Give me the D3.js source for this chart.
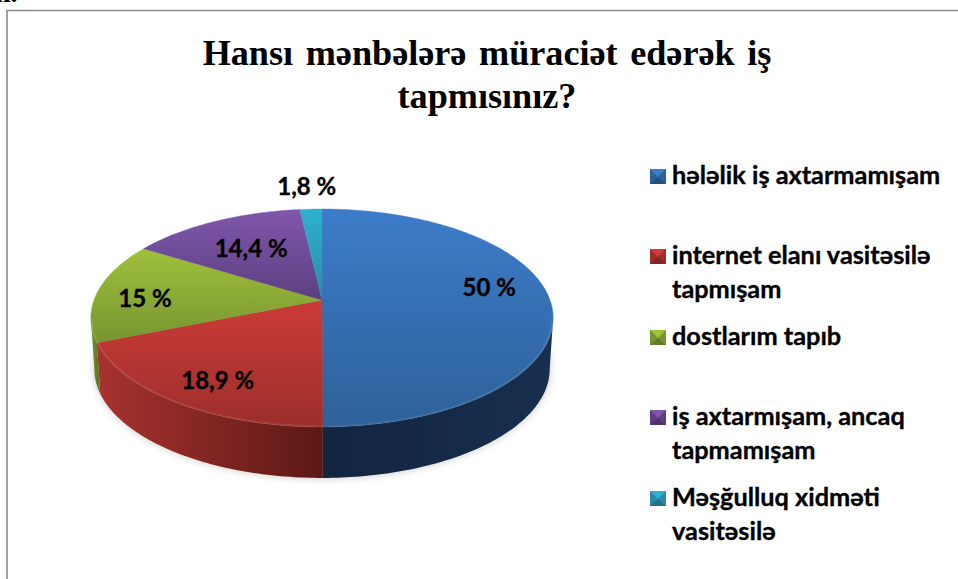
<!DOCTYPE html>
<html><head><meta charset="utf-8">
<script src="https://cdn.jsdelivr.net/npm/d3@7"></script>
<style>html,body{margin:0;padding:0;background:#fff;overflow:hidden}svg{display:block}</style>
</head><body><div id="chart"></div>
<script>
const categories = ["hələlik iş axtarmamışam", "internet elanı vasitəsilə tapmışam", "dostlarım tapıb", "iş axtarmışam, ancaq tapmamışam", "Məşğulluq xidməti vasitəsilə"];
const values = [50, 18.9, 15, 14.4, 1.8];
const legendLines = [["hələlik iş axtarmamışam"], ["internet elanı vasitəsilə", "tapmışam"], ["dostlarım tapıb"], ["iş axtarmışam, ancaq", "tapmamışam"], ["Məşğulluq xidməti", "vasitəsilə"]];
const titleLines = ["Hansı mənbələrə müraciət edərək iş", "tapmısınız?"];
const topLight = ["#3d7cc9", "#cc3b38", "#a0c03c", "#8057ac", "#2fb0d0"];
const topDark  = ["#2d6199", "#9c2e2b", "#769530", "#5c3f80", "#2a8aa8"];
const wallLeft = ["#122440", "#a8322f", "#7f9c33", "#5c3f80", "#2a8aa8"];
const wallRight = ["#182f4e", "#5c1916", "#5e7a28", "#5c3f80", "#2a8aa8"];
const legendY = [183, 263, 344, 424, 505];
const labelNudge = [[3,-12],[-3,10],[-15,5],[9,7],[-7,-45]];

const W = 958, H = 579;
const svg = d3.select("#chart").append("svg").attr("width", W).attr("height", H);
const defs = svg.append("defs");

// Perspective disc
const cx = 322, apexY = 300, A = 228, B = 106, k = 0.165, depth = 51, baseShrink = 0.985;
const sx = d3.scaleLinear().domain([-1, 1]).range([cx - A, cx + A]);
const sy = d3.scaleLinear().domain([-1, 1]).range([apexY - B, apexY + B]);
function project(theta, r, base) {
  const u = r * Math.sin(theta), v = -r * Math.cos(theta), s = 1 / (1 - k * v);
  if (!base) return [sx(u * s), sy(v * s)];
  return [sx(u * s * baseShrink), sy(v * s) + depth];
}
const line = d3.line();
const arcs = d3.pie().sort(null)(values);
const deg = Math.PI / 180;
const samples = (a, b) => { const n = Math.max(2, Math.ceil((b - a) / deg)); return d3.range(n + 1).map(i => a + (b - a) * i / n); };

const grad = (id, x1, y1, x2, y2, c1, c2) => {
  const g = defs.append("linearGradient").attr("id", id).attr("gradientUnits", "userSpaceOnUse")
    .attr("x1", x1).attr("y1", y1).attr("x2", x2).attr("y2", y2);
  g.append("stop").attr("offset", 0).attr("stop-color", c1);
  g.append("stop").attr("offset", 1).attr("stop-color", c2);
};
const f = defs.append("filter").attr("id", "soft").attr("x", "-10%").attr("y", "-20%").attr("width", "120%").attr("height", "140%");
f.append("feGaussianBlur").attr("stdDeviation", 4);

// Frame and the cropped text above it
svg.append("path").attr("d", `M7,${H}V10.5H${W}`).attr("fill", "none").attr("stroke", "#8c8c8c").attr("stroke-width", 1.6);
svg.append("text").attr("x", -5).attr("y", 2).attr("font-family", "Liberation Serif").attr("font-weight", 700).attr("font-size", 28).attr("fill", "#000").text("n.");

// Title
svg.append("g").selectAll("text").data(titleLines).join("text")
  .attr("x", 487).attr("y", (d, i) => 65 + i * 43)
  .attr("text-anchor", "middle").attr("font-family", "Liberation Serif").attr("font-weight", 700)
  .attr("font-size", 36.2).attr("word-spacing", 3.5).attr("fill", "#000").text(d => d);

// Shadow
const ring = samples(0, 2 * Math.PI);
svg.append("path").attr("d", line(ring.map(t => project(t, 1.0, true))) + "Z")
  .attr("fill", "#000").attr("opacity", 0.22).attr("filter", "url(#soft)");

// Walls (front-facing only, between the silhouette tangents)
const wallMin = 99.5 * deg, wallMax = 260.5 * deg;
const walls = svg.append("g");
arcs.forEach((d, i) => {
  const a = Math.max(d.startAngle, wallMin), b = Math.min(d.endAngle, wallMax);
  if (b <= a) return;
  const ts = samples(a, b);
  const top = ts.map(t => project(t, 1, false)), bot = ts.map(t => project(t, 1, true)).reverse();
  const xs = top.map(p => p[0]);
  grad("wall" + i, d3.min(xs), 0, d3.max(xs), 0, wallLeft[i], wallRight[i]);
  walls.append("path").attr("d", line(top.concat(bot)) + "Z").attr("fill", `url(#wall${i})`);
});

// Top face
const face = svg.append("g");
arcs.forEach((d, i) => {
  const pts = [project(0, 0, false)].concat(samples(d.startAngle, d.endAngle).map(t => project(t, 1, false)));
  const ys = pts.map(p => p[1]);
  grad("top" + i, 0, d3.min(ys), 0, d3.max(ys), topLight[i], topDark[i]);
  face.append("path").attr("d", line(pts) + "Z").attr("fill", `url(#top${i})`)
    .attr("stroke", `url(#top${i})`).attr("stroke-width", 0.4);
});
// Soft bevel along the front rim
svg.append("path").attr("d", line(samples(wallMin, wallMax).map(t => project(t, 0.996, false))))
  .attr("fill", "none").attr("stroke", "#fff").attr("stroke-opacity", 0.08).attr("stroke-width", 2);

// Value labels
const labelFont = "Lato, 'Open Sans', sans-serif";
svg.append("g").selectAll("text").data(arcs).join("text")
  .attr("transform", (d, i) => {
    const p = project((d.startAngle + d.endAngle) / 2, 0.72, false);
    return `translate(${p[0] + labelNudge[i][0]},${p[1] + labelNudge[i][1]})`;
  })
  .attr("text-anchor", "middle").attr("dy", "0.35em")
  .attr("font-family", labelFont).attr("font-weight", 700).attr("font-size", 24)
  .attr("fill", "#000").attr("stroke", "#000").attr("stroke-width", 0.35)
  .text(d => String(d.data).replace(".", ",") + " %");

// Legend
const lg = svg.append("g");
categories.forEach((c, i) => {
  const g = lg.append("g").attr("transform", `translate(650,${legendY[i] - 14})`);
  g.append("rect").attr("width", 16).attr("height", 15).attr("fill", topDark[i]);
  g.append("path").attr("d", "M0,0H16L8,8Z").attr("fill", topLight[i]);
  g.append("path").attr("d", "M0,15L8,8L16,15Z").attr("fill", "#000").attr("opacity", 0.18);
  legendLines[i].forEach((t, j) => {
    lg.append("text").attr("x", 672).attr("y", legendY[i] + 1 + j * 33.5)
      .attr("font-family", labelFont).attr("font-weight", 700).attr("font-size", 25.3)
      .attr("fill", "#000").attr("stroke", "#000").attr("stroke-width", 0.35).text(t);
  });
});
</script></body></html>
